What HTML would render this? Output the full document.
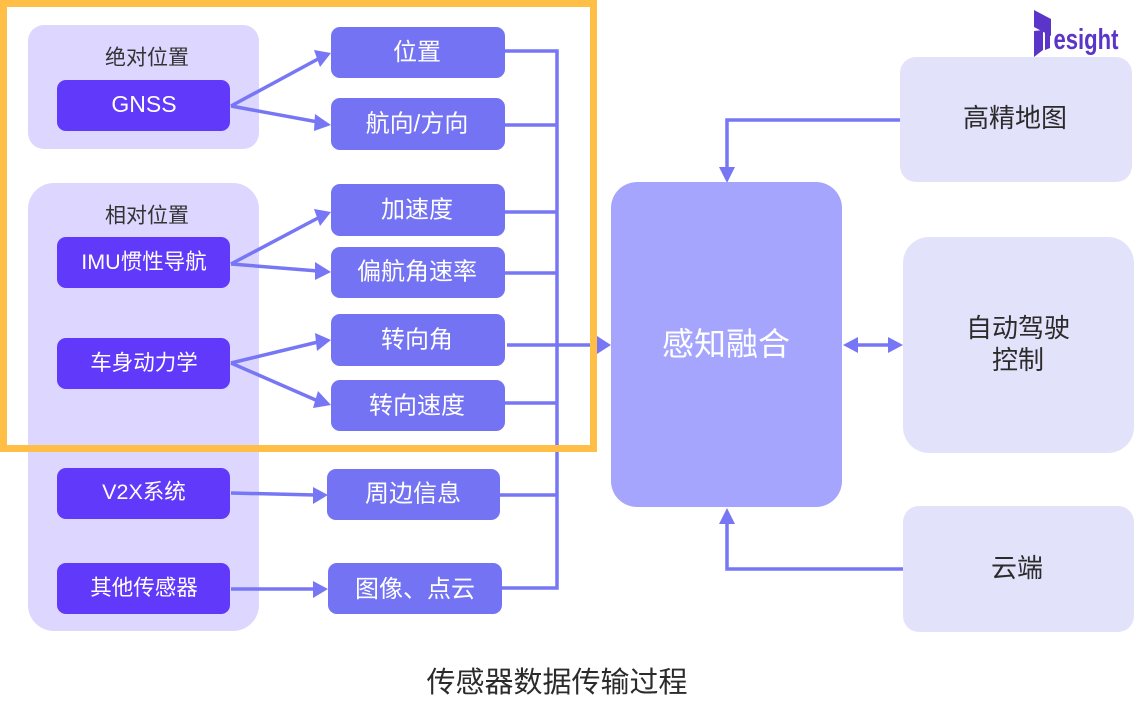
<!DOCTYPE html>
<html><head><meta charset="utf-8"><style>
html,body{margin:0;padding:0;background:#fff}
svg{display:block}
text{font-family:"Liberation Sans","Noto Sans CJK SC",sans-serif;text-anchor:middle;dominant-baseline:central}
.w{fill:#fff;font-size:21.5px}
.v{fill:#fff;font-size:24px}
.d{fill:#333;font-size:21px}
.k{fill:#2b2b2b;font-size:26px}
.l{fill:none;stroke:#7777f5;stroke-width:3.5}
.a{fill:#7777f5}
.p{fill:#6139fb}
.b{fill:#7373f3}
.g{fill:#e3e2fb}
</style></head><body>
<svg width="1134" height="722" viewBox="0 0 1134 722" xmlns="http://www.w3.org/2000/svg">
<rect width="1134" height="722" fill="#fff"/>
<rect x="28" y="25" width="231" height="124" rx="16" fill="#ddd6fe"/>
<rect x="28" y="183" width="231" height="448" rx="26" fill="#ddd6fe"/>

<path class="l" d="M505 51H557V588H502M505 125H557M505 212H557M505 273H557M507 345H597M505 403H557M500 495H557"/>
<path class="l" d="M231 106L318 59M231 106L318 122M231 264L318 218M231 264L318 271M231 363L318 342M231 363L318 401M231 493L315 495M231 589H315"/>
<path class="l" d="M900 120H727V168M903 569H727V522M856 345H890"/>
<path class="a" d="M331 53L314 50L320 67ZM331 125L315 114L314 131ZM331 212L314 209L320 226ZM331 272L315 262L315 280ZM331 340L315 333L317 351ZM331 405L318 391L313 408ZM328 495L313 487L313 504ZM328 589L313 581L313 598Z"/>
<path class="a" d="M611 345L597 336V354ZM727 183L719 167H735ZM727 508L719 524H735ZM843 345L858 337V353ZM903 345L888 337V353Z"/>

<rect class="p" x="57" y="80" width="173" height="51" rx="9"/>
<rect class="p" x="57" y="237" width="173" height="51" rx="9"/>
<rect class="p" x="57" y="338" width="173" height="51" rx="9"/>
<rect class="p" x="57" y="468" width="173" height="51" rx="9"/>
<rect class="p" x="57" y="563" width="173" height="51" rx="9"/>

<rect class="b" x="331" y="27" width="174" height="51" rx="9"/>
<rect class="b" x="331" y="98" width="174" height="52" rx="9"/>
<rect class="b" x="331" y="184" width="174" height="52" rx="9"/>
<rect class="b" x="331" y="247" width="174" height="51" rx="9"/>
<rect class="b" x="331" y="314" width="174" height="52" rx="9"/>
<rect class="b" x="331" y="380" width="174" height="51" rx="9"/>
<rect class="b" x="327" y="469" width="173" height="51" rx="9"/>
<rect class="b" x="328" y="563" width="174" height="51" rx="9"/>

<rect x="611" y="182" width="231" height="325" rx="26" fill="#a5a5fe"/>
<rect class="g" x="900" y="57" width="232" height="125" rx="16"/>
<rect class="g" x="903" y="237" width="231" height="216" rx="26"/>
<rect class="g" x="903" y="506" width="231" height="126" rx="16"/>

<text class="d" x="147" y="58">绝对位置</text>
<text class="d" x="147" y="216">相对位置</text>
<text class="w" x="144" y="104" style="font-size:23px">GNSS</text>
<text class="w" x="144" y="262">IMU惯性导航</text>
<text class="w" x="144" y="363">车身动力学</text>
<text class="w" x="144" y="492">V2X系统</text>
<text class="w" x="144" y="588">其他传感器</text>

<text class="v" x="417" y="52.5">位置</text>
<text class="v" x="417" y="124">航向/方向</text>
<text class="v" x="417" y="210">加速度</text>
<text class="v" x="417" y="272">偏航角速率</text>
<text class="v" x="417" y="340">转向角</text>
<text class="v" x="417" y="406">转向速度</text>
<text class="v" x="413" y="494">周边信息</text>
<text class="v" x="415" y="589.5">图像、点云</text>

<text x="726" y="344" fill="#fff" style="font-size:32px">感知融合</text>
<text class="k" x="1015" y="118">高精地图</text>
<text class="k" x="1018" y="328">自动驾驶</text>
<text class="k" x="1018" y="360">控制</text>
<text class="k" x="1017" y="568">云端</text>
<text x="557" y="683" fill="#2b2b2b" style="font-size:29px">传感器数据传输过程</text>

<rect x="3.5" y="3.5" width="590" height="445" fill="none" stroke="#ffbf47" stroke-width="7"/>

<path d="M1034 10L1051 19V36L1034 27Z" fill="#5b35c9"/>
<path d="M1034 31L1043 30V50L1034 57Z" fill="#5b35c9"/>
<path d="M1045 32L1050 31V48L1045 50Z" fill="#5b35c9"/>
<text x="1086" y="40" fill="#5b35c9" style="font-size:29px;font-weight:bold" textLength="65" lengthAdjust="spacingAndGlyphs">esight</text>
</svg>
</body></html>
